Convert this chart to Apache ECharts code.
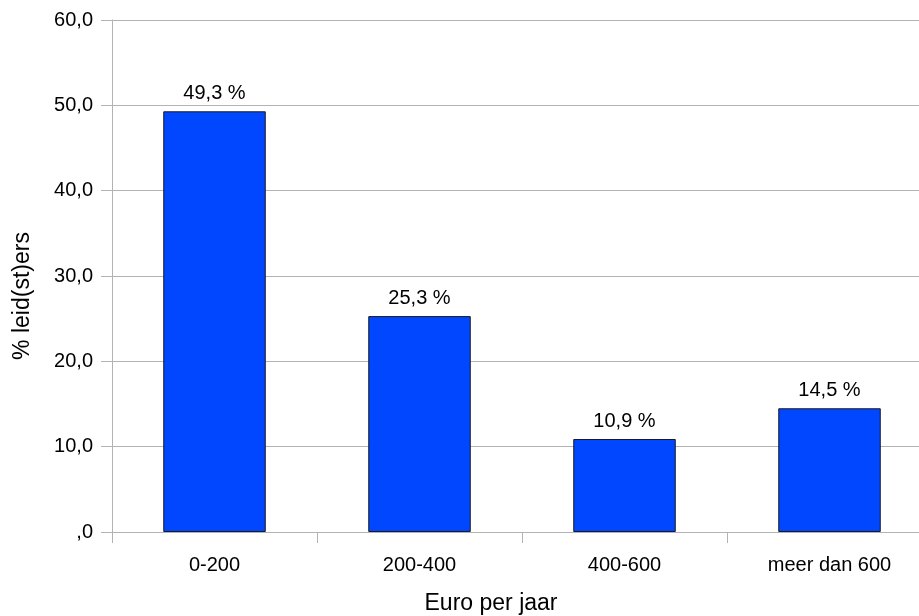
<!DOCTYPE html>
<html>
<head>
<meta charset="utf-8">
<script src="https://cdn.jsdelivr.net/npm/echarts@6/dist/echarts.min.js"></script>
<style>html,body{margin:0;padding:0;background:#fff;}#c{width:919px;height:616px;}</style>
</head>
<body>
<div id="c"></div>
<script>
const categories = ['0-200', '200-400', '400-600', 'meer dan 600'];
const values = [49.3, 25.3, 10.9, 14.5];
const yTicks = [0, 10, 20, 30, 40, 50, 60];
const xTitle = 'Euro per jaar';
const yTitle = '% leid(st)ers';

function fmt(v) {
  const s = Number(v).toFixed(1).replace('.', ',');
  return s.startsWith('0,') ? s.slice(1) : s;
}

const font = 'Liberation Sans';
const chart = echarts.init(document.getElementById('c'));
chart.setOption({
  animation: false,
  backgroundColor: '#fff',
  grid: { left: 112, top: 20, right: -13, bottom: 84, containLabel: false, outerBoundsMode: 'none' },
  xAxis: {
    type: 'category',
    data: categories,
    name: xTitle,
    nameLocation: 'middle',
    nameGap: 60,
    nameTextStyle: { fontFamily: font, fontSize: 23, color: '#000', padding: [0, 62, 0, 0] },
    axisLine: { show: true, lineStyle: { color: '#b3b3b3', width: 1 } },
    axisTick: { show: true, length: 11, lineStyle: { color: '#b3b3b3' } },
    axisLabel: { fontFamily: font, fontSize: 20, color: '#000', margin: 23 },
    splitLine: { show: false }
  },
  yAxis: {
    type: 'value',
    min: yTicks[0],
    max: yTicks[yTicks.length - 1],
    interval: 10,
    name: yTitle,
    nameLocation: 'middle',
    nameGap: 78,
    nameRotate: 90,
    nameTextStyle: { fontFamily: font, fontSize: 23, color: '#000', padding: [0, 40, 0, 0] },
    axisLine: { show: true, lineStyle: { color: '#b3b3b3', width: 1 } },
    axisTick: { show: true, length: 11, lineStyle: { color: '#b3b3b3' } },
    axisLabel: { fontFamily: font, fontSize: 20, color: '#000', margin: 19, formatter: fmt },
    splitLine: { show: true, lineStyle: { color: '#b3b3b3', width: 1 } }
  },
  series: [{
    type: 'bar',
    data: values,
    barWidth: '50%',
    itemStyle: { color: '#0047ff', borderColor: '#1a1a1a', borderWidth: 1 },
    label: {
      show: true,
      position: 'top',
      distance: 8,
      fontFamily: font,
      fontSize: 20,
      color: '#000',
      formatter: p => fmt(p.value) + ' %'
    }
  }]
});
</script>
</body>
</html>
